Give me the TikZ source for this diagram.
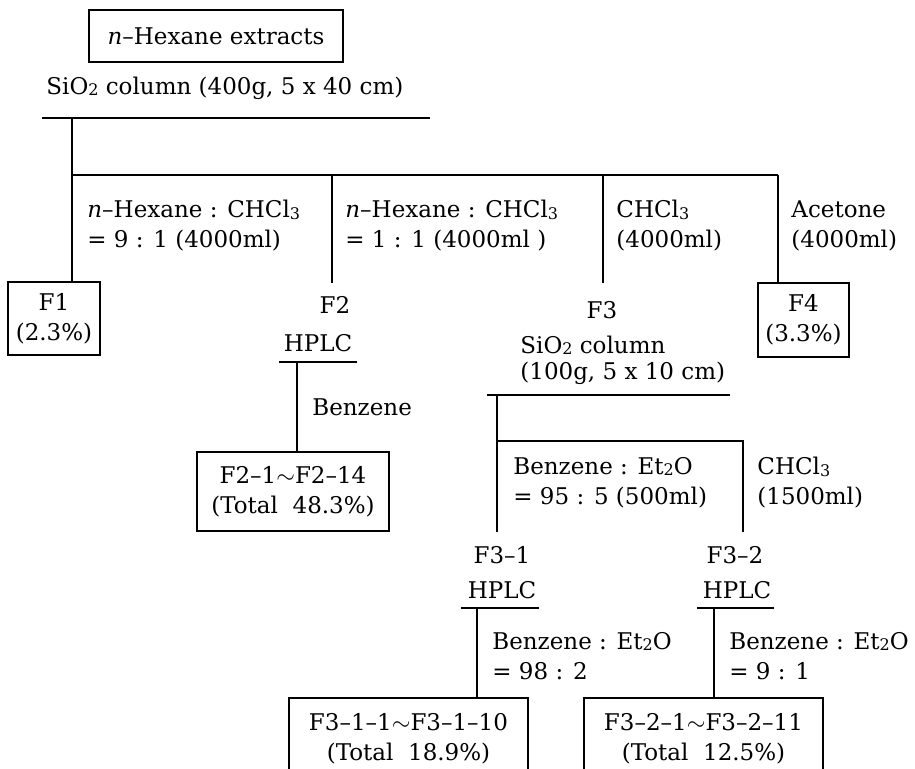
\documentclass[tikz,border=0pt]{standalone}
\usepackage{fontspec}
\setmainfont{DejaVu Serif}
\newcommand{\chemsub}[1]{\raisebox{-0.1ex}{\footnotesize #1}}
\tikzset{
  frac/.style={draw, line width=1pt, inner sep=0pt, outer sep=0pt, align=center},
  elu/.style={anchor=west, align=left, inner sep=0pt},
  lbl/.style={inner sep=0pt, outer sep=0pt},
  rule/.style={line width=1pt}
}
\begin{document}
\begin{tikzpicture}[x=0.5pt, y=-0.5pt, font=\fontsize{11.5}{15}\selectfont]
    \useasboundingbox (0,0) rectangle (915,769);
    % start and first column
    \node[frac, minimum width=127pt, minimum height=26pt] (hex) at (216,36) {\textit{n}--Hexane extracts};
    \node[elu] (col1) at (46,88) {SiO\chemsub{2} column (400g, 5 x 40 cm)};
    \coordinate (col1l) at (42,118);
    \coordinate (col1r) at (430,118);
    \coordinate (col1s) at (72,118);
    \draw[rule] (col1l) -- (col1r);
    % main branch
    \coordinate (br1) at (72,175);
    \coordinate (br2) at (332,175);
    \coordinate (br3) at (603,175);
    \coordinate (br4) at (778,175);
    \draw[rule] (br1) -- (br4);
    \node[elu] (e1) at (87,226) {\textit{n}--Hexane : CHCl\chemsub{3}\\= 9 : 1 (4000ml)};
    \node[elu] (e2) at (345,226) {\textit{n}--Hexane : CHCl\chemsub{3}\\= 1 : 1 (4000ml )};
    \node[elu] (e3) at (616,226) {CHCl\chemsub{3}\\(4000ml)};
    \node[elu] (e4) at (791,226) {Acetone\\(4000ml)};
    % fractions
    \node[frac, minimum width=46pt, minimum height=36.5pt] (f1) at (54,318.5) {F1\\(2.3\%)};
    \node[frac, minimum width=45.5pt, minimum height=37pt] (f4) at (803.5,320) {F4\\(3.3\%)};
    \draw[rule] (col1s) -- (col1s |- f1.north);
    \draw[rule] (br4) -- (br4 |- f4.north);
    \node[lbl] (f2) at (335,305) {F2};
    \node[lbl] (f2h) at (318,343) {HPLC};
    \draw[rule] (br2) -- ++(0,108);
    \node[lbl] (f3) at (602,310) {F3};
    \node[elu] (col2) at (520,360) {SiO\chemsub{2} column\\[-2pt](100g, 5 x 10 cm)};
    \draw[rule] (br3) -- ++(0,108);
    % F2 by HPLC
    \coordinate (f2l) at (279,362);
    \coordinate (f2r) at (357,362);
    \coordinate (f2s) at (297,362);
    \draw[rule] (f2l) -- (f2r);
    \node[elu] (e5) at (312,407) {Benzene};
    \node[frac, minimum width=96pt, minimum height=39.5pt] (f21) at (293,491.5) {F2--1$\sim$F2--14\\(Total\ \ 48.3\%)};
    \draw[rule] (f2s) -- (f2s |- f21.north);
    % F3 by column
    \coordinate (col2l) at (487,395);
    \coordinate (col2r) at (730,395);
    \coordinate (col2s) at (497,395);
    \draw[rule] (col2l) -- (col2r);
    \coordinate (sb1) at (497,441);
    \coordinate (sb2) at (743,441);
    \draw[rule] (col2s) -- (497,532);
    \draw[rule] (sb1) -- (sb2) -- ++(0,91);
    \node[elu] (e6) at (513,483) {Benzene : Et\chemsub{2}O\\= 95 : 5 (500ml)};
    \node[elu] (e7) at (757,483) {CHCl\chemsub{3}\\(1500ml)};
    \node[lbl] (f31) at (502,555) {F3--1};
    \node[lbl] (f32) at (735,555) {F3--2};
    \node[lbl] (f31h) at (502,590) {HPLC};
    \node[lbl] (f32h) at (737,590) {HPLC};
    \coordinate (h1l) at (461,608);
    \coordinate (h1r) at (539,608);
    \coordinate (h1s) at (477,608);
    \coordinate (h2l) at (697,608);
    \coordinate (h2r) at (774,608);
    \coordinate (h2s) at (714,608);
    \draw[rule] (h1l) -- (h1r);
    \draw[rule] (h2l) -- (h2r);
    \node[elu] (e8) at (492,656) {Benzene : Et\chemsub{2}O\\= 98 : 2};
    \node[elu] (e9) at (729,656) {Benzene : Et\chemsub{2}O\\= 9 : 1};
    \node[frac, minimum width=119.5pt, minimum height=41pt] (f311) at (408.5,739) {F3--1--1$\sim$F3--1--10\\(Total\ \ 18.9\%)};
    \node[frac, minimum width=119.5pt, minimum height=41pt] (f321) at (703.5,739) {F3--2--1$\sim$F3--2--11\\(Total\ \ 12.5\%)};
    \draw[rule] (h1s) -- (h1s |- f311.north);
    \draw[rule] (h2s) -- (h2s |- f321.north);
\end{tikzpicture}
\end{document}
